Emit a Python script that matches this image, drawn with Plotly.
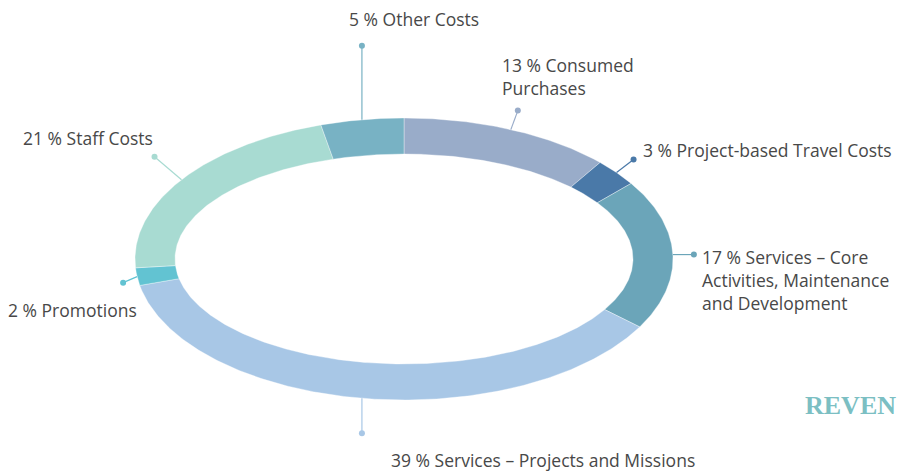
import numpy as np
import plotly.graph_objects as go

# ---- data ----
categories = [
    "Consumed Purchases",
    "Project-based Travel Costs",
    "Services – Core Activities, Maintenance and Development",
    "Services – Projects and Missions",
    "Promotions",
    "Staff Costs",
    "Other Costs",
]
label_texts = [
    "13 % Consumed<br>Purchases",
    "3 % Project-based Travel Costs",
    "17 % Services – Core<br>Activities, Maintenance<br>and Development",
    "39 % Services – Projects and Missions",
    "2 % Promotions",
    "21 % Staff Costs",
    "5 % Other Costs",
]
values = [13, 3, 17, 39, 2, 21, 5]

# ---- styles / layout ----
colors = ["#99acc9", "#4a79a8", "#6ba5b9", "#a8c7e6", "#62c3d2", "#a8dbd2", "#78b2c4"]
W, H = 898, 472
CX, CY = 404, 259
A_OUT, B_OUT = 269, 141
A_IN, B_IN = 229, 105
# connector offsets from ring (dx, dy) and label anchor positions (block centre)
conn_off = [(7, -19), (17, -13), (21, 0), (0, 35), (-14, 6), (-27, -23), (0, -74)]
label_pos = [(500, 76), (641, 150), (700, 280), (389, 460), (6, 310), (21, 138), (347, 19)]
TEXT_COLOR = "#484848"
FONT = "Open Sans"
FONT_SIZE = 17.5

fig = go.Figure()

total = float(sum(values))
cum = np.concatenate([[0.0], np.cumsum(values)]) / total


def ell(t, a, b):
    return CX + a * np.sin(t), CY - b * np.cos(t)


for i, v in enumerate(values):
    t0 = cum[i] * 2 * np.pi
    t1 = cum[i + 1] * 2 * np.pi
    ts = np.linspace(t0, t1, max(8, int(v * 6)))
    xo, yo = ell(ts, A_OUT, B_OUT)
    xi, yi = ell(ts[::-1], A_IN, B_IN)
    xs = np.concatenate([xo, xi, xo[:1]])
    ys = np.concatenate([yo, yi, yo[:1]])
    fig.add_trace(go.Scatter(
        x=xs, y=ys, mode="lines", fill="toself", fillcolor=colors[i],
        line=dict(color="rgba(255,255,255,0.6)", width=0.6),
        hoverinfo="text", text=categories[i], showlegend=False,
    ))

for i, v in enumerate(values):
    tm = (cum[i] + cum[i + 1]) / 2 * 2 * np.pi
    x0, y0 = ell(tm, A_OUT, B_OUT)
    dx, dy = conn_off[i]
    x1, y1 = x0 + dx, y0 + dy
    fig.add_trace(go.Scatter(
        x=[x0, x1], y=[y0, y1], mode="lines", line=dict(color=colors[i], width=1.2),
        hoverinfo="skip", showlegend=False,
    ))
    fig.add_trace(go.Scatter(
        x=[x1], y=[y1], mode="markers", marker=dict(color=colors[i], size=6),
        hoverinfo="skip", showlegend=False,
    ))
    lx, ly = label_pos[i]
    fig.add_annotation(
        x=lx, y=ly, xref="x", yref="y", text=label_texts[i], showarrow=False,
        xanchor="left", yanchor="middle", align="left",
        font=dict(family=FONT, size=FONT_SIZE, color=TEXT_COLOR),
    )

fig.add_annotation(
    x=1.0, y=405, xref="paper", yref="y", text="<b>REVEN</b>", showarrow=False,
    xanchor="right", yanchor="middle",
    font=dict(family="Liberation Serif", size=26, color="#7cbfc3"),
)

fig.update_layout(
    width=W, height=H, margin=dict(l=0, r=0, t=0, b=0),
    paper_bgcolor="white", plot_bgcolor="white",
    xaxis=dict(range=[0, W], visible=False, fixedrange=True),
    yaxis=dict(range=[H, 0], visible=False, fixedrange=True),
    showlegend=False,
)

fig.write_html(
    "out.html",
    config={"displayModeBar": False},
    post_script="document.body.style.margin='0px';document.body.style.overflow='hidden';",
)
